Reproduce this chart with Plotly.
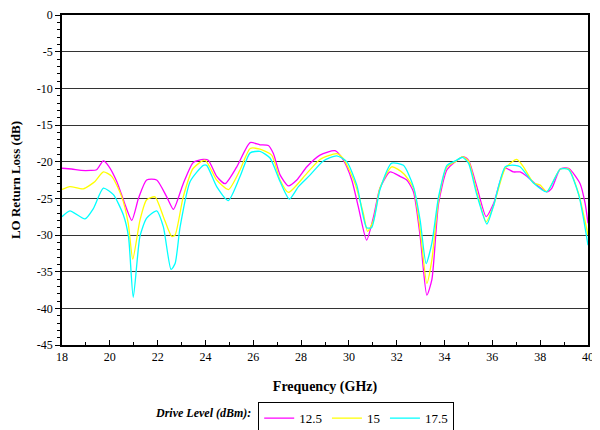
import plotly.graph_objects as go

# Drive level 12.5 dBm
f_125 = [18.0, 18.4, 18.8, 19.2, 19.45, 19.73, 19.95, 20.29, 20.6, 20.92, 21.2, 21.54, 21.96, 22.38, 22.66,
         23.07, 23.49, 23.91, 24.12, 24.47, 24.82, 25.31, 25.87, 26.28, 26.63, 26.84, 27.12, 27.47, 27.82,
         28.24, 28.79, 29.42, 29.77, 30.12, 30.39, 30.74, 31.03, 31.3, 31.72, 32.14, 32.42, 32.7, 32.98,
         33.26, 33.47, 33.75, 34.1, 34.45, 34.79, 35.0, 35.35, 35.74, 36.05, 36.54, 36.88, 37.16, 37.44,
         37.86, 38.28, 38.49, 38.84, 39.19, 39.67, 39.88, 40.0]
rl_125 = [-20.9, -21.0, -21.2, -21.2, -21.1, -19.9, -20.6, -22.7, -25.5, -28.0, -25.0, -22.5, -22.5, -24.8, -26.5,
          -23.0, -20.1, -19.7, -19.8, -22.0, -23.0, -20.7, -17.4, -17.7, -17.8, -18.9, -21.8, -23.3, -22.5,
          -20.7, -19.1, -18.5, -19.8, -22.5, -26.1, -30.7, -27.5, -23.6, -21.4, -22.0, -22.5, -24.1, -30.2,
          -38.2, -36.1, -25.7, -21.1, -20.0, -19.3, -19.8, -23.4, -27.5, -25.7, -20.9, -21.4, -21.4, -22.0,
          -23.2, -24.1, -23.6, -21.0, -20.9, -23.0, -25.7, -28.4]

# Drive level 15 dBm
f_15 = [18.0, 18.33, 18.89, 19.38, 19.73, 20.08, 20.5, 20.77, 20.96, 21.26, 21.54, 21.89, 22.24, 22.59, 22.73,
        23.07, 23.49, 23.98, 24.47, 24.96, 25.45, 25.87, 26.28, 26.77, 27.12, 27.47, 28.24, 28.79, 29.49,
        29.77, 30.26, 30.6, 30.78, 31.03, 31.3, 31.79, 32.28, 32.7, 32.98, 33.26, 33.47, 33.75, 34.1,
        34.45, 34.75, 35.0, 35.35, 35.74, 36.05, 36.54, 37.02, 37.3, 37.72, 38.0, 38.28, 38.84, 39.19,
        39.6, 40.0]
rl_15 = [-23.8, -23.4, -23.7, -22.7, -21.4, -22.0, -24.8, -28.4, -33.3, -28.0, -25.2, -24.8, -27.5, -30.2, -30.0,
         -24.8, -20.9, -19.8, -22.5, -23.8, -21.1, -18.2, -18.3, -19.1, -22.5, -24.2, -21.6, -19.7, -18.9,
         -19.6, -23.0, -27.0, -29.5, -28.0, -23.6, -20.7, -21.6, -23.6, -29.3, -36.6, -33.4, -25.2, -20.7,
         -20.0, -19.3, -19.9, -24.1, -28.2, -26.0, -20.9, -19.7, -20.7, -22.9, -23.2, -24.1, -21.0, -21.0,
         -24.3, -30.0]

# Drive level 17.5 dBm
f_175 = [18.0, 18.33, 18.96, 19.31, 19.73, 20.15, 20.57, 20.78, 20.98, 21.26, 21.54, 21.96, 22.24, 22.56, 22.73,
         22.94, 23.36, 23.91, 24.05, 24.47, 24.96, 25.45, 25.87, 26.28, 26.7, 27.12, 27.51, 27.89, 28.38,
         28.93, 29.49, 29.91, 30.33, 30.74, 30.95, 31.3, 31.79, 32.28, 32.7, 32.98, 33.23, 33.47, 33.75,
         34.1, 34.45, 34.75, 35.0, 35.35, 35.77, 36.05, 36.54, 36.95, 37.16, 37.37, 37.72, 38.28, 38.84,
         39.19, 39.61, 40.0]
rl_175 = [-27.5, -26.7, -27.8, -26.4, -23.6, -24.5, -27.3, -30.2, -38.5, -30.2, -27.7, -26.7, -28.9, -34.7, -33.9,
          -28.9, -22.7, -20.5, -20.5, -23.4, -25.3, -22.0, -18.8, -18.6, -19.5, -22.7, -25.1, -23.4, -21.8,
          -19.9, -19.2, -20.0, -23.2, -29.0, -29.0, -23.8, -20.2, -20.5, -23.4, -28.0, -33.9, -31.1, -24.8,
          -20.5, -19.9, -19.4, -20.2, -24.5, -28.5, -26.0, -20.7, -20.5, -20.7, -21.5, -22.9, -24.1, -21.0,
          -21.1, -24.5, -31.4]

series_names = ["12.5", "15", "17.5"]
series_colors = ["#FF00FF", "#FFFF00", "#00FFFF"]
series_x = [f_125, f_15, f_175]
series_y = [rl_125, rl_15, rl_175]

y_tickvals = [0, -5, -10, -15, -20, -25, -30, -35, -40, -45]
y_ticktext = ["0", "-5", "-10", "-15", "-20", "-25", "-30", "-35", "-40", "-45"]
x_tickvals = [18, 20, 22, 24, 26, 28, 30, 32, 34, 36, 38, 40]
x_ticktext = [str(v) for v in x_tickvals]

SERIF = "Times New Roman, Liberation Serif, serif"

fig = go.Figure()
for name, color, xs, ys in zip(series_names, series_colors, series_x, series_y):
    fig.add_trace(go.Scatter(x=xs, y=ys, name=name, mode="lines",
                             line=dict(color=color, width=1.3, shape="spline", smoothing=0.6)))

# page has an 8px body margin, so the figure is 8px smaller than the window
fig.update_layout(
    width=592, height=422,
    margin=dict(l=54, r=12, t=7, b=85, autoexpand=False),
    paper_bgcolor="white", plot_bgcolor="white",
    font=dict(family=SERIF, size=12, color="black"),
    showlegend=True,
    legend=dict(orientation="h", x=0.373, xanchor="left", yref="container", y=0.066, yanchor="top",
                bordercolor="black", borderwidth=1, font=dict(family=SERIF, size=13),
                itemwidth=30, tracegroupgap=0, bgcolor="white"),
    annotations=[dict(text="<b><i>Drive Level (dBm):</i></b>", xref="paper", yref="paper",
                      x=0.363, xanchor="right", y=-0.206, yanchor="middle", showarrow=False,
                      font=dict(family=SERIF, size=12, color="black"))],
)

fig.update_xaxes(range=[18, 40], tickvals=x_tickvals, ticktext=x_ticktext, showgrid=False, zeroline=False,
                 showline=True, linecolor="black", linewidth=1.5, mirror=True, automargin=False,
                 ticks="inside", ticklen=5, tickcolor="black",
                 minor=dict(dtick=1, tick0=18, ticks="inside", ticklen=3, tickcolor="black", showgrid=False),
                 tickfont=dict(family=SERIF, size=12),
                 title=dict(text="<b>Frequency (GHz)</b>", font=dict(family=SERIF, size=14), standoff=18))

fig.update_yaxes(range=[-45, 0], tickvals=y_tickvals, ticktext=y_ticktext, showgrid=True,
                 gridcolor="#333333", gridwidth=1, automargin=False,
                 zeroline=False, showline=True, linecolor="black", linewidth=1.5, mirror=True,
                 ticks="outside", ticklen=5, tickcolor="black",
                 minor=dict(dtick=1, tick0=0, ticks="outside", ticklen=3, tickcolor="black", showgrid=False),
                 tickfont=dict(family=SERIF, size=12),
                 title=dict(text="<b>LO Return Loss (dB)</b>", font=dict(family=SERIF, size=13), standoff=18))

fig.write_html("out.html")
